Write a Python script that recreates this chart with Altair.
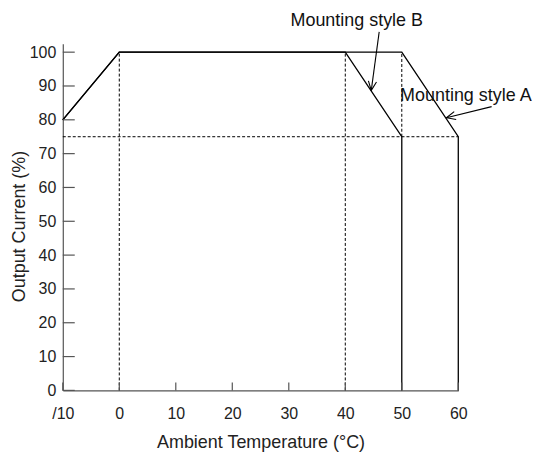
import altair as alt
import pandas as pd

# ---- data ----
x_a = [-10, 0, 50, 60, 60]
y_a = [80, 100, 100, 75, 0]
x_b = [-10, 0, 40, 50, 50]
y_b = [80, 100, 100, 75, 0]

# dashed guide segments
guide_x = [0, 40, 50, -10]
guide_x2 = [0, 40, 50, 60]
guide_y = [0, 0, 75, 75]
guide_y2 = [100, 100, 100, 75]

x_tick_values = [-10, 0, 10, 20, 30, 40, 50, 60]
x_tick_labels = ["/10", "0", "10", "20", "30", "40", "50", "60"]
y_tick_values = [0, 10, 20, 30, 40, 50, 60, 70, 80, 90, 100]

# annotations
ann_text = ["Mounting style B", "Mounting style A"]
ann_x = [30.3, 49.7]
ann_y = [107.8, 85.7]
arrow_x = [46.0, 65.9]
arrow_y = [106.0, 83.9]
arrow_tip_x = [44.6, 57.9]
arrow_tip_y = [88.7, 80.6]
arrow_angle = [187.5, 256.0]

W, H = 397, 348
FONT = "Liberation Sans"

rows = []
for i, (x, y) in enumerate(zip(x_a, y_a)):
    rows.append({"series": "A", "i": i, "x": x, "y": y})
for i, (x, y) in enumerate(zip(x_b, y_b)):
    rows.append({"series": "B", "i": i, "x": x, "y": y})
lines_df = pd.DataFrame(rows)

guides_df = pd.DataFrame({"x": guide_x, "x2": guide_x2, "y": guide_y, "y2": guide_y2})
xt_df = pd.DataFrame({"x": x_tick_values})
yt_df = pd.DataFrame({"y": y_tick_values})
ann_df = pd.DataFrame({
    "text": ann_text, "tx": ann_x, "ty": ann_y,
    "ax": arrow_x, "ay": arrow_y, "hx": arrow_tip_x, "hy": arrow_tip_y,
    "angle": arrow_angle,
})

xs = alt.Scale(domain=[-10, 60], nice=False, zero=False)
ys = alt.Scale(domain=[0, 102.5], nice=False, zero=False)

label_expr = "{" + ", ".join(f"'{v}': '{l}'" for v, l in zip(x_tick_values, x_tick_labels)) + "}[datum.value]"

XT = "Ambient Temperature (°C)"
YT = "Output Current (%)"

x_axis = alt.Axis(
    values=x_tick_values, labelExpr=label_expr,
    ticks=False, tickSize=0, grid=False, labelPadding=15, labelFontSize=16,
    titleFontSize=18, titleFontWeight="normal", titleBaseline="alphabetic",
    titleY=57, domainColor="#555", domainWidth=1.2, labelColor="#222",
    titleColor="#222", labelFont=FONT, titleFont=FONT, labelFlush=False)
y_axis = alt.Axis(
    values=y_tick_values, ticks=False, tickSize=0,
    grid=False, labelPadding=7, labelFontSize=16, titleFontSize=18,
    titleFontWeight="normal", titleAngle=270, titleBaseline="alphabetic",
    titleX=-38, titleY=183, domainColor="#555", domainWidth=1.2,
    labelColor="#222", titleColor="#222", labelFont=FONT, titleFont=FONT,
    labelFlush=False)


def X(field):
    return alt.X(field, type="quantitative", scale=xs, axis=x_axis, title=XT)


def Y(field):
    return alt.Y(field, type="quantitative", scale=ys, axis=y_axis, title=YT)


guides = alt.Chart(guides_df).mark_rule(color="black", strokeWidth=1, strokeDash=[3, 2]).encode(
    x=X("x"), x2="x2:Q", y=Y("y"), y2="y2:Q",
)

lines = alt.Chart(lines_df).mark_line(color="black", strokeWidth=1.3).encode(
    x=X("x"), y=Y("y"), detail="series:N", order="i:Q",
)

xticks = alt.Chart(xt_df).mark_rule(color="#555", strokeWidth=1.2).encode(
    x=X("x"), y=alt.value(H), y2=alt.value(H - 8),
)
yticks = alt.Chart(yt_df).mark_rule(color="#555", strokeWidth=1.2).encode(
    y=Y("y"), x=alt.value(0), x2=alt.value(12),
)

arrows = alt.Chart(ann_df).mark_rule(color="black", strokeWidth=1.1).encode(
    x=X("ax"), x2="hx:Q", y=Y("ay"), y2="hy:Q",
)
heads = alt.Chart(ann_df).mark_point(
    shape="M -0.45 1 L 0 0 L 0.45 1", filled=False, color="black", strokeWidth=1.1,
    size=330, opacity=1,
).encode(
    x=X("hx"), y=Y("hy"), angle=alt.Angle("angle:Q", scale=None),
)
texts = alt.Chart(ann_df).mark_text(
    align="left", baseline="alphabetic", fontSize=18, font=FONT, color="#111",
).encode(
    x=X("tx"), y=Y("ty"), text="text:N",
)

chart = alt.layer(guides, lines, xticks, yticks, arrows, heads, texts).properties(
    width=W, height=H,
    autosize=alt.AutoSizeParams(type="none"),
    padding={"left": 55, "top": 35, "right": 75, "bottom": 62},
).configure_view(stroke=None)

chart.save("out.html", embed_options={"renderer": "svg", "actions": False})
